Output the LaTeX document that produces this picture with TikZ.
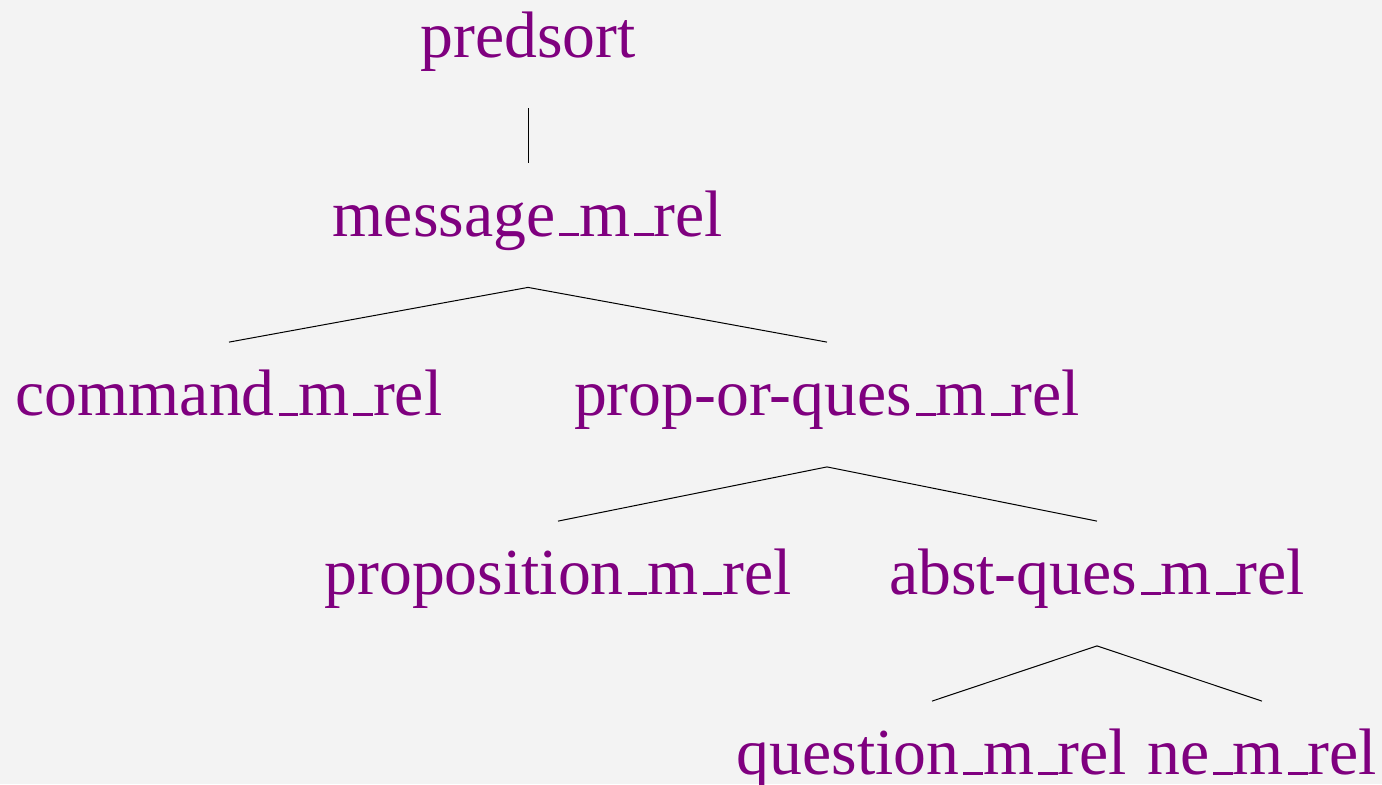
\documentclass[tikz,border=0pt]{standalone}
\usepackage{fontspec}
\setmainfont{Liberation Serif}
\usepackage{xcolor}
\usetikzlibrary{positioning}
\definecolor{sortpurple}{HTML}{7F007F}
\definecolor{sortbg}{HTML}{F3F3F3}
\newcommand\usc{\leavevmode\kern.06em\vbox{\hrule width.3em height 1.5pt}}

\begin{document}
\begin{tikzpicture}[
    x=0.5pt, y=-0.5pt,
    sort/.style={text=sortpurple, inner sep=0pt, text height=36.5pt, text depth=25.5pt, font=\fontsize{32.85pt}{39pt}\selectfont},
    link/.style={draw=black, line width=0.5pt}
]
\path[use as bounding box, fill=sortbg] (0,0) rectangle (1382,784);
\node[sort, anchor=base] (pred) at (528,57) {predsort};
\node[sort, below=89.5pt of pred.base, anchor=base] (msg) {message\usc m\usc rel};
\node[sort, below left=89.75pt and 149.5pt of msg.base, anchor=base] (cmd) {command\usc m\usc rel};
\node[sort, below right=89.75pt and 149.5pt of msg.base, anchor=base] (poq) {prop-or-ques\usc m\usc rel};
\node[sort, below left=89.5pt and 134.5pt of poq.base, anchor=base] (prop) {proposition\usc m\usc rel};
\node[sort, below right=89.5pt and 135pt of poq.base, anchor=base] (abst) {abst-ques\usc m\usc rel};
\node[sort, below left=90pt and 82.5pt of abst.base, anchor=base] (ques) {question\usc m\usc rel};
\node[sort, below right=90pt and 82.5pt of abst.base, anchor=base] (ne) {ne\usc m\usc rel};
\draw[link] (pred) -- (msg);
\draw[link] (msg.south) -- (cmd.north);
\draw[link] (msg.south) -- (poq.north);
\draw[link] (poq.south) -- (prop.north);
\draw[link] (poq.south) -- (abst.north);
\draw[link] (abst.south) -- (ques.north);
\draw[link] (abst.south) -- (ne.north);
\end{tikzpicture}
\end{document}
